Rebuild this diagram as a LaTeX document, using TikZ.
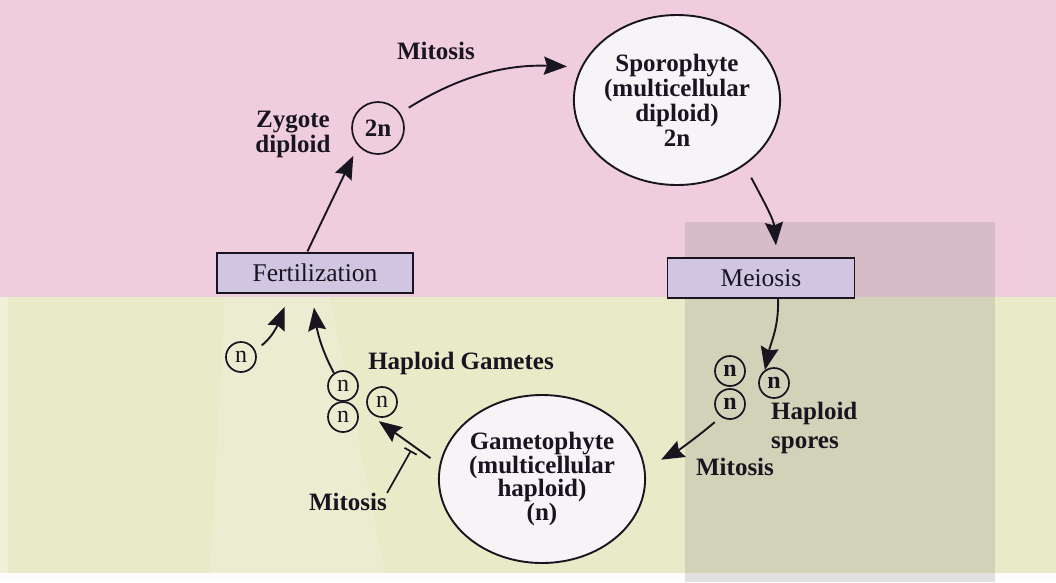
\documentclass[tikz,border=0pt]{standalone}
\usepackage{fontspec}
\setmainfont{Liberation Serif}
\usetikzlibrary{arrows.meta,shapes.geometric,calc}
\definecolor{pinkbg}{RGB}{239,205,220}
\definecolor{yellowbg}{RGB}{233,234,200}
\definecolor{boxfill}{RGB}{208,198,226}
\definecolor{cellfill}{RGB}{246,244,246}
\definecolor{ink}{RGB}{24,20,32}
\begin{document}
\begin{tikzpicture}[x=1pt,y=-1pt,
  lbl/.style={font=\fontsize{25}{25}\selectfont\bfseries, text=ink, align=center, inner sep=0pt},
  procbox/.style={draw=ink, line width=1.4pt, fill=boxfill, text=ink, inner sep=0pt,
    font=\fontsize{25.5}{25.5}\selectfont},
  bigcell/.style={ellipse, draw=ink, line width=1.9pt, fill=cellfill, inner sep=0pt, text=ink,
    align=center, font=\fontsize{25}{25}\selectfont\bfseries},
  cell/.style={circle, draw=ink, line width=1.7pt, inner sep=0pt, minimum size=30pt, text=ink,
    font=\fontsize{24}{24}\selectfont},
  arr/.style={draw=ink, line width=1.9pt, -{Stealth[length=23pt,width=18pt,inset=3pt]}},
  thin/.style={draw=ink, line width=1.7pt}
]
\useasboundingbox (0,0) rectangle (1056,582);
% background
\fill[pinkbg] (0,0) rectangle (1056,297);
\fill[yellowbg] (0,297) rectangle (1056,573);
\fill[white!92!yellowbg] (0,573) rectangle (1056,582);
\fill[white, opacity=0.15] (225,297) -- (330,297) -- (385,573) -- (210,573) -- cycle;
\fill[white, opacity=0.3] (0,297) rectangle (8,573);
\fill[black!50, opacity=0.22] (685,222) rectangle (995,582);

% nodes
\node[bigcell, minimum width=190pt, minimum height=170pt] (spo) at (677,100) {Sporophyte\\(multicellular\\diploid)\\2n};
\node[bigcell, minimum width=189pt, minimum height=168pt, font=\fontsize{25}{23.5}\selectfont\bfseries] (gam) at (542,479) {Gametophyte\\(multicellular\\haploid)\\(n)};
\node[cell, minimum size=52pt, font=\fontsize{25}{25}\selectfont\bfseries] (zyg) at (378,128) {2n};
\node[lbl] (zyglbl) at (293,134) {Zygote\\diploid};
\node[lbl] (mit1) at (436,51) {Mitosis};
\node[procbox, minimum width=196pt, minimum height=40pt] (fert) at (315,273) {Fertilization};
\node[procbox, minimum width=187pt, minimum height=40pt] (mei) at (761,278) {Meiosis};
% spores
\node[cell, font=\fontsize{24}{24}\selectfont\bfseries] (s1) at (730,371) {n};
\node[cell, font=\fontsize{24}{24}\selectfont\bfseries] (s2) at (774,383) {n};
\node[cell, font=\fontsize{24}{24}\selectfont\bfseries] (s3) at (730,404) {n};
\node[lbl, align=left, anchor=west, font=\fontsize{25}{29}\selectfont\bfseries] (sporelbl) at (771,428) {Haploid\\spores};
\node[lbl] (mit2) at (735,467) {Mitosis};
% gametes
\node[cell] (g1) at (343,386) {n};
\node[cell] (g2) at (343,417) {n};
\node[cell] (g3) at (382,402) {n};
\node[cell] (sn) at (241,357) {n};
\node[lbl] (gamlbl) at (461,363) {Haploid Gametes};
\node[lbl] (mit3) at (348,502) {Mitosis};

% connectors
\draw[arr, shorten <=10pt, shorten >=14pt] (zyg.34) to[out=32,in=178] (spo.161);
\draw[arr, shorten <=14pt, shorten >=12pt] (spo.-44) to[out=-62,in=95] ([xshift=16pt]mei.north);
\draw[arr] ([xshift=17pt]mei.south) to[out=-88,in=78] (s2.125);
\draw[arr, shorten <=8pt, shorten >=18pt] (s3.235) to[out=-140,in=28] (gam.6);
\draw[arr, shorten <=11pt, shorten >=20pt] (gam.172) -- ($(g2)!0.5!(g3)$);
\coordinate (tee) at (411,450.5);
\draw[thin, -{Bar[width=14pt,line width=1.7pt]}] (mit3.north east) -- (tee);
\draw[arr, shorten <=8pt, shorten >=14pt] (sn.25) to[out=38,in=-112] ([xshift=-25pt]fert.south);
\draw[arr, shorten >=14pt] (g1.125) to[out=118,in=-82] ([xshift=-3pt]fert.south);
\draw[arr, shorten <=1pt, shorten >=11pt] ([xshift=-8pt]fert.north) -- (zyg.222);
\end{tikzpicture}
\end{document}
